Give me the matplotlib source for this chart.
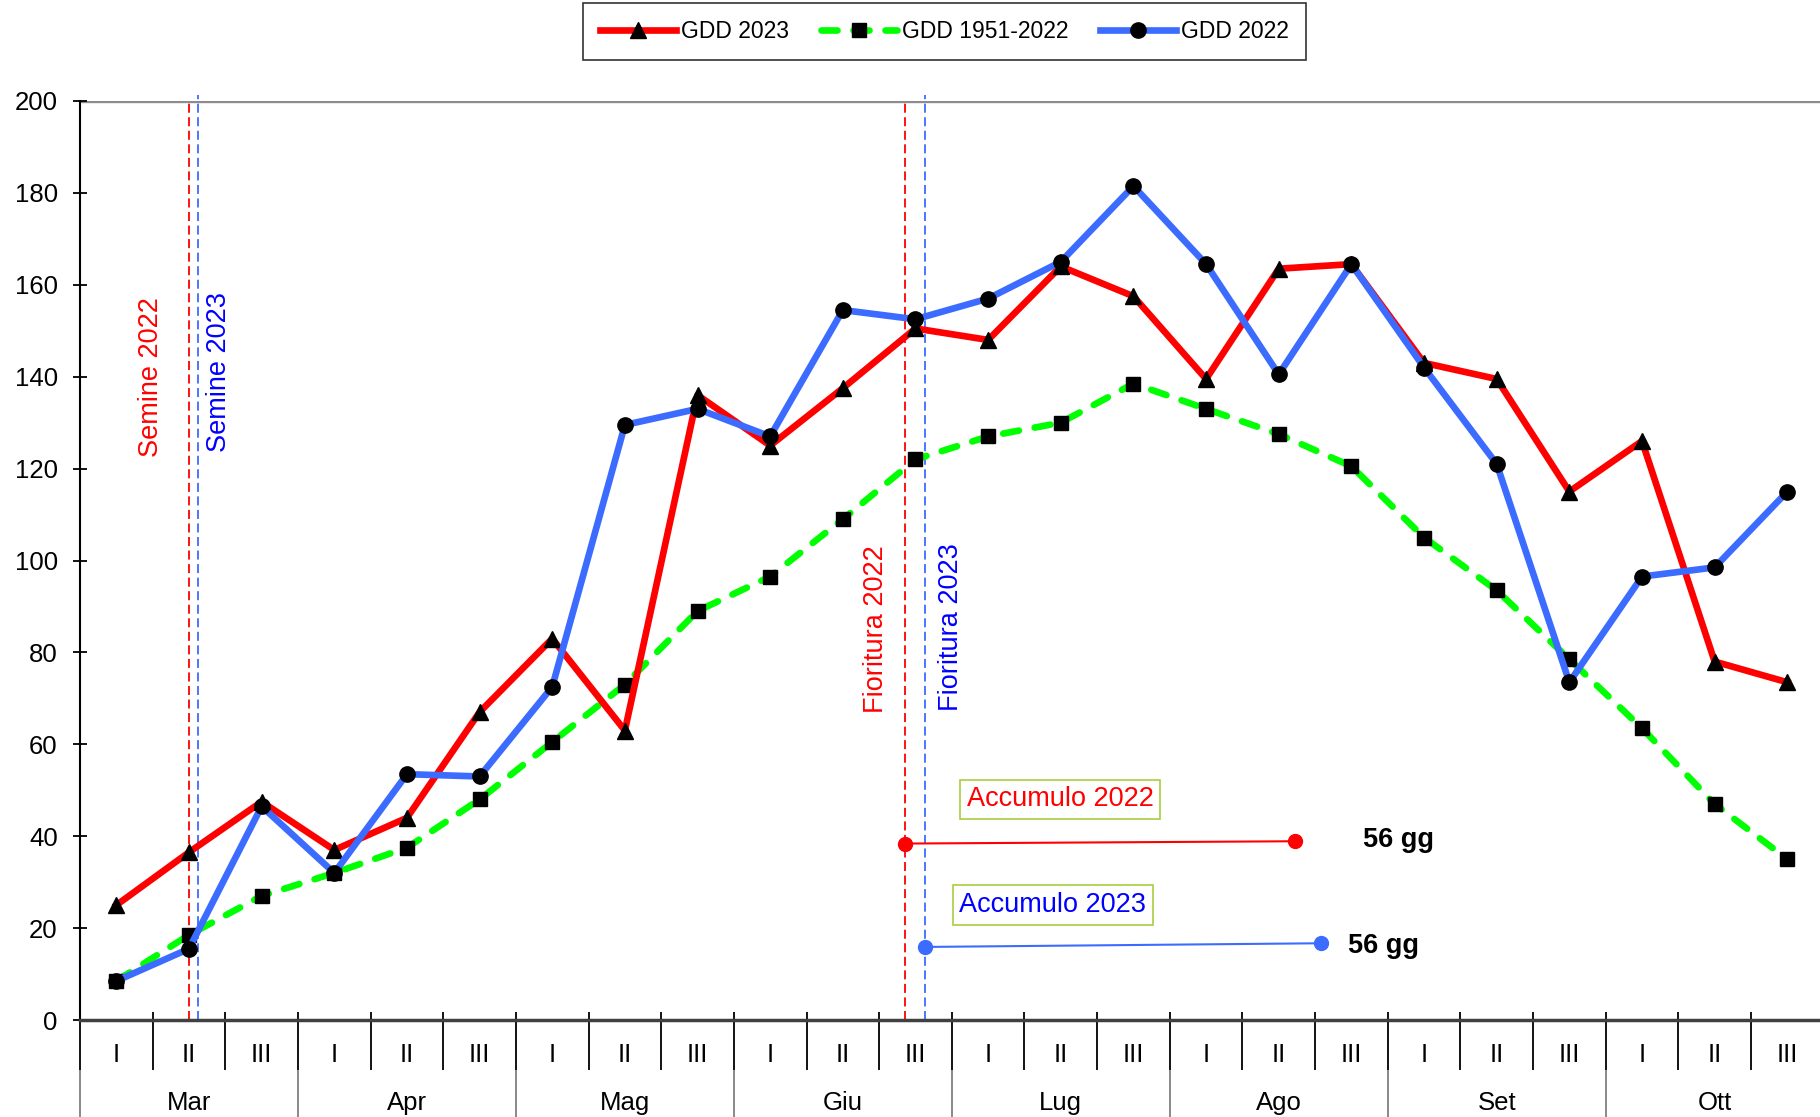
import matplotlib.pyplot as plt
import numpy as np

plt.rcParams['font.family'] = ['Liberation Sans', 'DejaVu Sans']

# decadi e mesi (Mar I ... Ott III)
decadi = ['I', 'II', 'III'] * 8
mesi = ['Mar', 'Apr', 'Mag', 'Giu', 'Lug', 'Ago', 'Set', 'Ott']

gdd_2023 = [25, 36.5, 47.5, 37, 44, 67, 83, 63, 136, 125, 137.5, 150.5,
            148, 164, 157.5, 139.5, 163.5, 164.5, 143, 139.5, 115, 126, 78, 73.5]
gdd_1951_2022 = [8.5, 18.5, 27, 32, 37.5, 48, 60.5, 73, 89, 96.5, 109, 122,
                 127, 130, 138.5, 133, 127.5, 120.5, 105, 93.5, 78.5, 63.5, 47, 35]
gdd_2022 = [8.5, 15.5, 46.5, 32, 53.5, 53, 72.5, 129.5, 133, 127, 154.5, 152.5,
            157, 165, 181.5, 164.5, 140.5, 164.5, 142, 121, 73.5, 96.5, 98.5, 115]

# date (in decadi) di semina e fioritura
semine_2022 = 1.0
semine_2023 = 1.13
fioritura_2022 = 10.86
fioritura_2023 = 11.13

# accumulo dalla fioritura
acc_2022_x = [10.86, 16.22]
acc_2022_y = [38.4, 38.9]
acc_2023_x = [11.13, 16.58]
acc_2023_y = [15.9, 16.7]
giorni_2022 = '56 gg'
giorni_2023 = '56 gg'

ROSSO = '#FF0000'
VERDE = '#00FF00'
BLU = '#3C6CFF'
BLU_TESTO = '#0000FF'

x = np.arange(len(decadi))

fig = plt.figure(figsize=(18.2, 11.17), dpi=100)
ax = fig.add_axes([80 / 1820, 1 - 1020 / 1117, 1 - 80 / 1820, 919 / 1117])

l1, = ax.plot(x, gdd_2023, color=ROSSO, lw=4.8, marker='^', ms=11,
              mfc='black', mec='black', label='GDD 2023', zorder=4)
l2, = ax.plot(x, gdd_1951_2022, color=VERDE, lw=4.8, ls=(0, (2.4, 2.4)),
              dash_capstyle='round', marker='s', ms=9.5, mfc='black',
              mec='black', label='GDD 1951-2022', zorder=3)
l3, = ax.plot(x, gdd_2022, color=BLU, lw=4.8, marker='o', ms=11,
              mfc='black', mec='black', label='GDD 2022', zorder=5)

# linee verticali semina / fioritura
for xv, col, ymax in [(semine_2022, ROSSO, 1.0), (semine_2023, BLU, 1.006),
                      (fioritura_2022, ROSSO, 1.0), (fioritura_2023, BLU, 1.006)]:
    ax.axvline(xv, ymin=0, ymax=ymax, color=col, lw=1.3, ls=(0, (5, 2.5)),
               clip_on=False, zorder=2)

ax.text(0.48, 140, 'Semine 2022', rotation=90, color=ROSSO, fontsize=19.5,
        ha='center', va='center')
ax.text(1.42, 141, 'Semine 2023', rotation=90, color=BLU_TESTO, fontsize=19.5,
        ha='center', va='center')
ax.text(10.46, 85, 'Fioritura 2022', rotation=90, color=ROSSO, fontsize=19.5,
        ha='center', va='center')
ax.text(11.49, 85.6, 'Fioritura 2023', rotation=90, color=BLU_TESTO, fontsize=19.5,
        ha='center', va='center')

# accumulo
ax.plot(acc_2022_x, acc_2022_y, color=ROSSO, lw=1.5, marker='o', ms=10, zorder=6)
ax.plot(acc_2023_x, acc_2023_y, color=BLU, lw=1.5, marker='o', ms=10, zorder=6)
box = dict(boxstyle='square,pad=0.25', fc='white', ec='#A8D040', lw=1.2)
ax.text(12.99, 48, 'Accumulo 2022', color=ROSSO, fontsize=19.5,
        ha='center', va='center', bbox=box)
ax.text(12.89, 25, 'Accumulo 2023', color=BLU_TESTO, fontsize=19.5,
        ha='center', va='center', bbox=box)
ax.text(17.65, 39.1, giorni_2022, fontsize=19.5, fontweight='bold',
        ha='center', va='center')
ax.text(17.44, 16.2, giorni_2023, fontsize=19.5, fontweight='bold',
        ha='center', va='center')

# assi
ax.set_xlim(-0.5, 23.45)
ax.set_ylim(0, 200)
ax.set_yticks(np.arange(0, 201, 20))
ax.tick_params(axis='y', direction='inout', length=10, width=1.3,
               labelsize=18.5, pad=11)
ax.set_xticks([])
ax.spines['top'].set_visible(False)
ax.spines['right'].set_visible(False)
ax.spines['left'].set_linewidth(1.5)
ax.spines['bottom'].set_color('#404040')
ax.spines['bottom'].set_linewidth(2.5)
ax.axhline(200, color='#8C8C8C', lw=2.4, zorder=1)

# asse categorie a due livelli
trans = ax.get_xaxis_transform()
bordi = np.arange(-0.5, len(decadi) + 0.5, 1)
ax.vlines(bordi, -50 / 919, 8 / 919, transform=trans, color='black',
          lw=1.3, clip_on=False)
ax.vlines(bordi[::3], -0.12, -50 / 919, transform=trans, color='#808080',
          lw=1.3, clip_on=False)
for xi, lab in zip(x, decadi):
    ax.text(xi, -35 / 919, lab, transform=trans, fontsize=18.5,
            ha='center', va='center')
for i, m in enumerate(mesi):
    ax.text(3 * i + 1, -83 / 919, m, transform=trans, fontsize=18.5,
            ha='center', va='center')

leg = fig.legend(handles=[l1, l2, l3], loc='center',
                 bbox_to_anchor=(0.519, 0.972), ncol=3, fontsize=16.5,
                 frameon=True, fancybox=False, edgecolor='black',
                 handlelength=3.3, handletextpad=0.22, columnspacing=1.4,
                 borderpad=0.75, numpoints=1)
leg.get_frame().set_linewidth(1.2)

fig.savefig('out.png', dpi=100)
